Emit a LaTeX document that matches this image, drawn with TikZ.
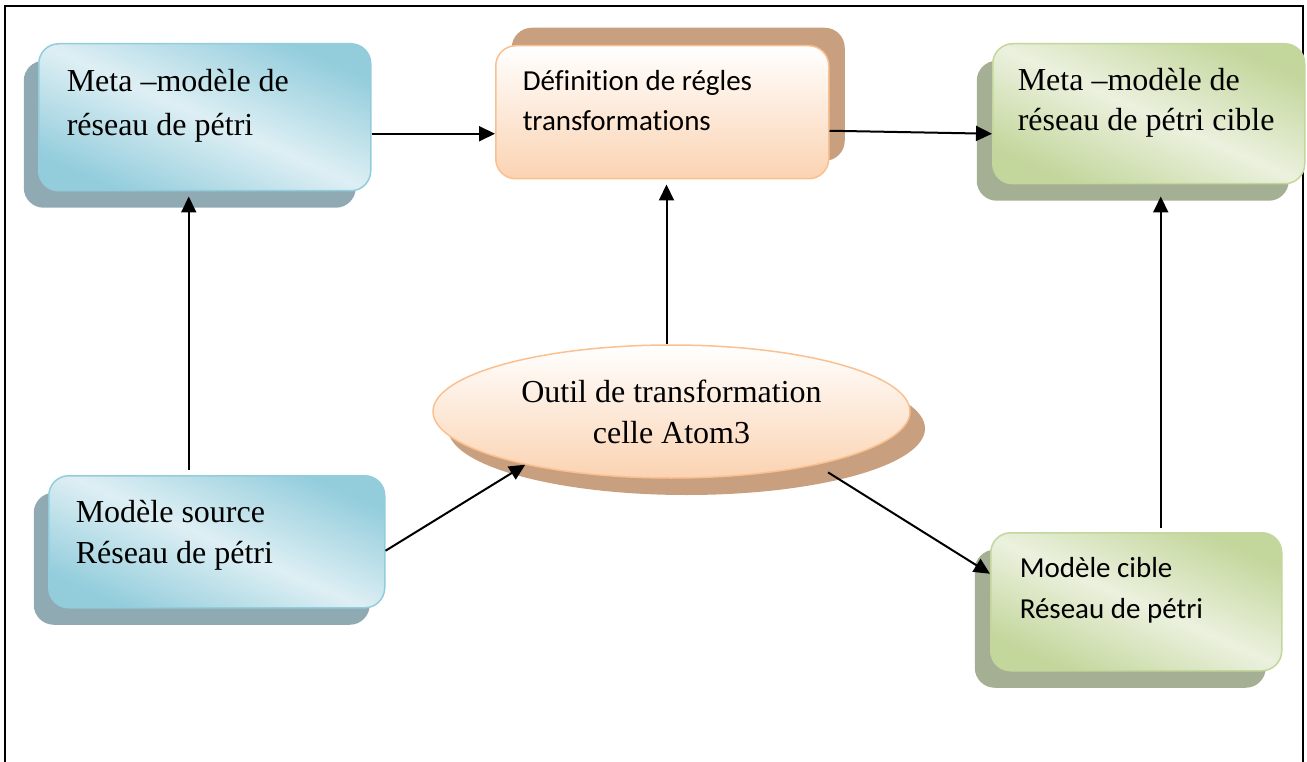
\documentclass[tikz,border=0pt]{standalone}
\usepackage{fontspec}
\setmainfont{Liberation Serif}
\newfontfamily\calibrifont[Ligatures=NoCommon]{Carlito}
\usetikzlibrary{arrows.meta,shapes.geometric,shadows}

% palette
\definecolor{aquaDark}{HTML}{93CDDC}
\definecolor{aquaLight}{HTML}{DEEFF4}
\definecolor{aquaLine}{HTML}{93CDDD}
\definecolor{aquaShadow}{HTML}{8FAAB2}
\definecolor{oliveDark}{HTML}{C3D69B}
\definecolor{oliveLight}{HTML}{EBF1DE}
\definecolor{oliveLine}{HTML}{C3D69B}
\definecolor{oliveShadow}{HTML}{A4AF93}
\definecolor{peachDark}{HTML}{FBD3B2}
\definecolor{peachLine}{HTML}{FAC090}
\definecolor{peachShadow}{HTML}{C9A07F}

\tikzset{
  box/.style={rectangle, rounded corners=20pt, line width=1.5pt,
    inner ysep=0pt, align=flush left, anchor=north west},
  serifbig/.style={font=\fontsize{32}{#1}\selectfont},
  calibribig/.style={font=\calibrifont\fontsize{29}{#1}\selectfont},
  aquabox/.style={box, draw=aquaLine,
    left color=aquaDark, right color=aquaDark, middle color=aquaLight,
    shading angle=-24,
    general shadow={fill=aquaShadow, opacity=1, shadow xshift=-15pt, shadow yshift=-17pt}},
  olivebox/.style={box, draw=oliveLine,
    left color=oliveDark, right color=oliveDark, middle color=oliveLight,
    shading angle=-24,
    general shadow={fill=oliveShadow, opacity=1, shadow xshift=-16pt, shadow yshift=-17pt}},
  peachbox/.style={box, draw=peachLine,
    top color=white, bottom color=peachDark,
    general shadow={fill=peachShadow, opacity=1, shadow xshift=16pt, shadow yshift=18pt}},
  tool/.style={ellipse, draw=peachLine, line width=1.5pt,
    top color=white, bottom color=peachDark,
    general shadow={fill=peachShadow, opacity=1, shadow xshift=15pt, shadow yshift=-17pt},
    minimum width=477pt, minimum height=133pt, inner sep=0pt,
    align=flush center, text width=330pt},
  arr/.style={line width=2pt, -{Triangle[length=16pt,width=15pt]}}
}

\begin{document}
\begin{tikzpicture}[x=1pt,y=-1pt]
\useasboundingbox (0,0) rectangle (1307,762);

% outer frame, open at the bottom
\draw[line width=2pt] (5,762) -- (5,6) -- (1303,6) -- (1303,762);

% boxes
\node[aquabox, serifbig=44, text width=276pt, inner xsep=28pt,
      text height=48pt, text depth=99pt] (m1) at (38,43)
      {Meta –modèle de\\réseau de pétri};
\node[peachbox, calibribig=40, text width=279pt, inner xsep=27pt,
      text height=45pt, text depth=88pt] (m2) at (495,45)
      {Définition de régles\\transformations};
\node[olivebox, serifbig=40, text width=262pt, inner xsep=25pt,
      text height=47pt, text depth=93pt] (m3) at (992,43)
      {Meta –modèle de\\réseau de pétri cible};
\node[aquabox, serifbig=41, text width=282pt, inner xsep=27pt,
      text height=47pt, text depth=85pt] (m4) at (48,475)
      {Modèle source\\Réseau de pétri};
\node[olivebox, calibribig=41, text width=233pt, inner xsep=29pt,
      text height=45pt, text depth=93pt] (m5) at (990,532)
      {Modèle cible\\Réseau de pétri};

% transformation tool
\node[tool, serifbig=41, text height=10pt, text depth=29pt] (e) at (671.5,411.5)
      {Outil de transformation\\celle Atom3};

% connectors
\draw[arr] ([yshift=-16.5pt]m1.east) -- ([yshift=-21.5pt]m2.west);
\draw[arr] ([yshift=-18.5pt]m2.east) -- ([yshift=-20pt]m3.west);
\draw[arr, shorten <=5pt, shorten >=5pt]
  ([xshift=-28pt]m4.north) -- ([xshift=-28pt]m4.north |- m1.south);
\draw[arr, shorten >=5pt]
  ([xshift=-5pt]e.north) -- ([xshift=-5pt]e.north |- m2.south);
\draw[arr, shorten <=4pt, shorten >=12pt]
  ([xshift=24.5pt]m5.north) -- ([xshift=24.5pt]m5.north |- m3.south);
\draw[arr] ([yshift=-9pt]m4.east) -- (e.200);
\draw[arr] ([yshift=-10pt]e.-18) -- ([yshift=28pt]m5.west);
\end{tikzpicture}
\end{document}
